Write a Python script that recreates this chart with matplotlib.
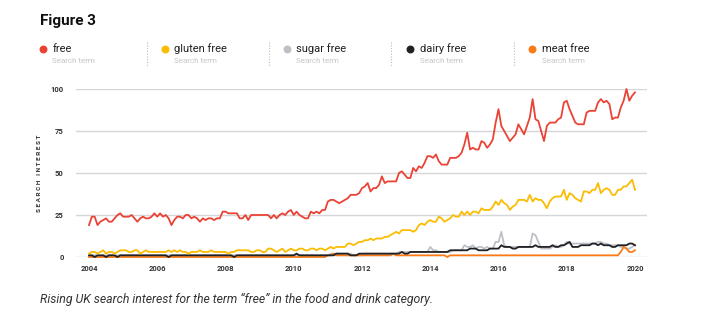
import numpy as np
import matplotlib
matplotlib.use('Agg')
import matplotlib.pyplot as plt

plt.rcParams['font.family'] = ['Roboto', 'DejaVu Sans']

# Monthly search interest, Jan 2004 - Jan 2020
terms = ['free', 'gluten free', 'sugar free', 'dairy free', 'meat free']
colors = ['#ea4335', '#fbbc04', '#bdc1c6', '#202124', '#fa7b17']

free = [19, 24, 24, 19, 21, 22, 23, 21, 21, 23, 25, 26,
        24, 24, 24, 25, 23, 21, 23, 24, 23, 23, 24, 26,
        24, 26, 24, 25, 23, 19, 22, 24, 24, 23, 25, 25,
        23, 24, 23, 21, 23, 22, 23, 23, 22, 23, 23, 27,
        27, 26, 26, 26, 26, 23, 23, 25, 22, 25, 25, 25,
        25, 25, 25, 25, 23, 25, 23, 25, 26, 25, 27, 28,
        25, 27, 25, 24, 23, 23, 27, 26, 27, 26, 28, 28,
        33, 34, 34, 33, 32, 33, 34, 35, 37, 37, 37, 38,
        41, 42, 44, 39, 41, 41, 43, 48, 44, 45, 45, 45,
        45, 50, 51, 49, 47, 47, 53, 51, 54, 53, 56, 60,
        60, 59, 61, 57, 55, 55, 55, 59, 59, 59, 60, 62,
        67, 74, 64, 65, 64, 64, 69, 68, 65, 67, 70, 80,
        88, 78, 75, 72, 69, 71, 73, 79, 76, 73, 78, 83,
        94, 82, 81, 75, 69, 78, 80, 80, 80, 82, 83, 92,
        93, 88, 84, 80, 79, 79, 79, 86, 87, 87, 87, 92,
        94, 92, 93, 91, 82, 83, 83, 89, 93, 100, 93, 96,
        98]

gluten_free = [2, 3, 3, 2, 3, 4, 2, 3, 3, 2, 3, 4,
               4, 4, 3, 3, 4, 4, 2, 3, 4, 3, 3, 3,
               3, 3, 3, 3, 4, 3, 4, 3, 4, 3, 3, 2,
               3, 3, 3, 4, 3, 3, 3, 4, 3, 3, 3, 3,
               3, 2, 3, 3, 4, 4, 4, 4, 4, 3, 3, 4,
               4, 3, 3, 5, 5, 4, 3, 4, 5, 3, 4, 5,
               4, 4, 5, 5, 4, 4, 5, 5, 4, 5, 5, 4,
               5, 6, 5, 6, 6, 6, 6, 8, 8, 7, 8, 9,
               9, 10, 10, 11, 10, 11, 11, 11, 12, 12, 13, 14,
               15, 14, 16, 16, 16, 16, 15, 16, 19, 20, 19, 21,
               22, 21, 21, 24, 23, 21, 22, 23, 25, 24, 24, 27,
               25, 27, 25, 27, 27, 26, 29, 28, 28, 28, 30, 33,
               31, 34, 32, 31, 28, 30, 31, 34, 34, 34, 33, 37,
               33, 35, 34, 34, 32, 29, 33, 35, 36, 36, 36, 40,
               34, 38, 37, 35, 34, 33, 39, 39, 38, 40, 40, 44,
               38, 40, 41, 40, 37, 37, 40, 40, 42, 42, 44, 46,
               40]

sugar_free = [1, 1, 1, 1, 0, 1, 1, 1, 1, 1, 1, 1,
              1, 1, 1, 1, 1, 1, 1, 1, 1, 1, 1, 1,
              1, 1, 1, 1, 1, 1, 1, 1, 1, 1, 1, 1,
              1, 1, 1, 1, 1, 1, 1, 1, 1, 1, 1, 1,
              1, 1, 1, 1, 1, 1, 1, 1, 1, 1, 1, 1,
              1, 1, 1, 1, 1, 1, 1, 1, 1, 1, 1, 1,
              1, 1, 1, 1, 1, 1, 1, 1, 1, 1, 1, 1,
              1, 2, 2, 2, 2, 2, 2, 2, 2, 1, 1, 1,
              1, 2, 2, 2, 2, 2, 2, 2, 2, 2, 2, 2,
              2, 3, 3, 3, 3, 3, 3, 3, 3, 3, 3, 3,
              6, 4, 4, 3, 3, 3, 3, 3, 4, 4, 4, 4,
              7, 6, 6, 7, 5, 6, 6, 5, 6, 5, 5, 9,
              9, 15, 7, 6, 6, 6, 6, 6, 6, 6, 6, 6,
              14, 13, 9, 5, 5, 5, 5, 6, 7, 6, 6, 7,
              9, 8, 8, 8, 8, 8, 8, 8, 8, 8, 8, 9,
              9, 8, 8, 7, 7, 7, 7, 6, 6, 5, 5, 6,
              7]

dairy_free = [1, 1, 0, 1, 1, 1, 0, 1, 1, 1, 0, 1,
              1, 1, 1, 1, 1, 1, 1, 1, 1, 1, 1, 1,
              1, 1, 1, 1, 0, 1, 1, 1, 1, 1, 1, 1,
              1, 1, 1, 1, 1, 1, 1, 1, 1, 1, 1, 1,
              1, 1, 1, 0, 1, 1, 1, 1, 1, 1, 1, 1,
              1, 1, 1, 1, 1, 1, 1, 1, 1, 1, 1, 1,
              1, 2, 1, 1, 1, 1, 1, 1, 1, 1, 1, 1,
              1, 1, 1, 2, 2, 2, 2, 2, 1, 1, 1, 2,
              2, 2, 2, 2, 2, 2, 2, 2, 2, 2, 2, 2,
              2, 2, 3, 2, 2, 3, 3, 3, 3, 3, 3, 3,
              3, 3, 3, 3, 3, 3, 3, 4, 4, 4, 4, 4,
              4, 4, 5, 5, 5, 4, 4, 4, 4, 5, 5, 5,
              5, 7, 6, 6, 6, 5, 5, 6, 6, 6, 6, 6,
              6, 7, 6, 6, 6, 6, 6, 7, 6, 6, 7, 7,
              8, 9, 6, 6, 6, 7, 7, 7, 7, 8, 8, 7,
              8, 7, 7, 7, 6, 6, 7, 7, 7, 7, 8, 8,
              7]

meat_free = [0, 0, 0, 0, 0, 0, 0, 0, 0, 0, 0, 0,
             0, 0, 0, 0, 0, 0, 0, 0, 0, 0, 0, 0,
             0, 0, 0, 0, 0, 0, 0, 0, 0, 0, 0, 0,
             0, 0, 0, 0, 0, 0, 0, 0, 0, 0, 0, 0,
             0, 0, 0, 0, 0, 0, 0, 0, 0, 0, 0, 0,
             0, 0, 0, 0, 0, 0, 0, 0, 0, 0, 0, 0,
             0, 0, 0, 0, 0, 0, 0, 0, 0, 0, 0, 0,
             1, 1, 2, 1, 1, 1, 1, 1, 1, 1, 1, 1,
             1, 1, 1, 1, 1, 1, 1, 1, 1, 1, 1, 2,
             1, 1, 1, 1, 1, 1, 1, 1, 1, 1, 1, 1,
             1, 1, 1, 1, 1, 1, 0, 1, 1, 1, 1, 1,
             1, 1, 1, 1, 1, 1, 1, 1, 1, 1, 1, 1,
             1, 1, 1, 1, 1, 1, 1, 1, 1, 1, 1, 1,
             1, 1, 1, 1, 1, 1, 1, 1, 1, 1, 1, 1,
             1, 1, 1, 1, 1, 1, 1, 1, 1, 1, 1, 1,
             1, 1, 1, 1, 1, 1, 1, 3, 6, 5, 3, 3,
             4]

year_ticks = [2004, 2006, 2008, 2010, 2012, 2014, 2016, 2018, 2020]
y_ticks = [0, 25, 50, 75, 100]

months = 2004 + np.arange(len(free)) / 12.0

fig = plt.figure(figsize=(7.08, 3.29), dpi=100)

# main plot area
ax = fig.add_axes([76 / 708, 1 - 257 / 329, 571 / 708, 168 / 329])
series = [(sugar_free, colors[2]), (meat_free, colors[4]), (dairy_free, colors[3]),
          (gluten_free, colors[1]), (free, colors[0])]
for vals, col in series:
    ax.plot(months, vals, color=col, lw=1.3, clip_on=False, zorder=3)

ax.set_xlim(2004 - 13 / 34.125, 2020 + 12 / 34.125)
ax.set_ylim(0, 100)
ax.set_yticks(y_ticks)
ax.set_xticks(year_ticks)
ax.set_xticklabels([str(y) for y in year_ticks])
ax.grid(axis='y', color='#d5d6da', lw=1.0)
ax.set_axisbelow(True)
for s in ax.spines.values():
    s.set_visible(False)
ax.tick_params(length=0, labelsize=5.5, labelcolor='#333333', pad=6)
ax.tick_params(axis='y', pad=9)
for lbl in ax.get_xticklabels() + ax.get_yticklabels():
    lbl.set_fontweight('bold')
ax.set_ylabel('S E A R C H   I N T E R E S T', fontsize=4.6, color='#333333',
              fontweight='bold')
ax.yaxis.set_label_coords(-34 / 571, 0.5)

# title and caption
fig.text(40 / 708, 1 - 21 / 329, 'Figure 3', fontsize=11, fontweight='bold',
         color='#111111', va='center')
fig.text(40 / 708, 1 - 299 / 329,
         'Rising UK search interest for the term \u201cfree\u201d in the food and drink category.',
         fontsize=8.8, style='italic', color='#333333', va='center')

# legend row
lg = fig.add_axes([0, 0, 1, 1])
lg.set_xlim(0, 708)
lg.set_ylim(329, 0)
lg.axis('off')
dot_x = [43, 165, 287, 410, 532]
sep_x = [147, 269, 391, 514]
for x, name, col in zip(dot_x, terms, colors):
    lg.scatter([x], [49], s=22, color=col, zorder=3)
    lg.text(x + 9.5, 49, name, fontsize=8, color='#202124', va='center')
    lg.text(x + 9.5, 61, 'Search term', fontsize=5.8, color='#c4c6ca', va='center')
for x in sep_x:
    lg.plot([x, x], [42, 66], color='#bbbbbb', lw=0.8, ls=(0, (1, 1.5)))

fig.savefig('out.png', dpi=100)
